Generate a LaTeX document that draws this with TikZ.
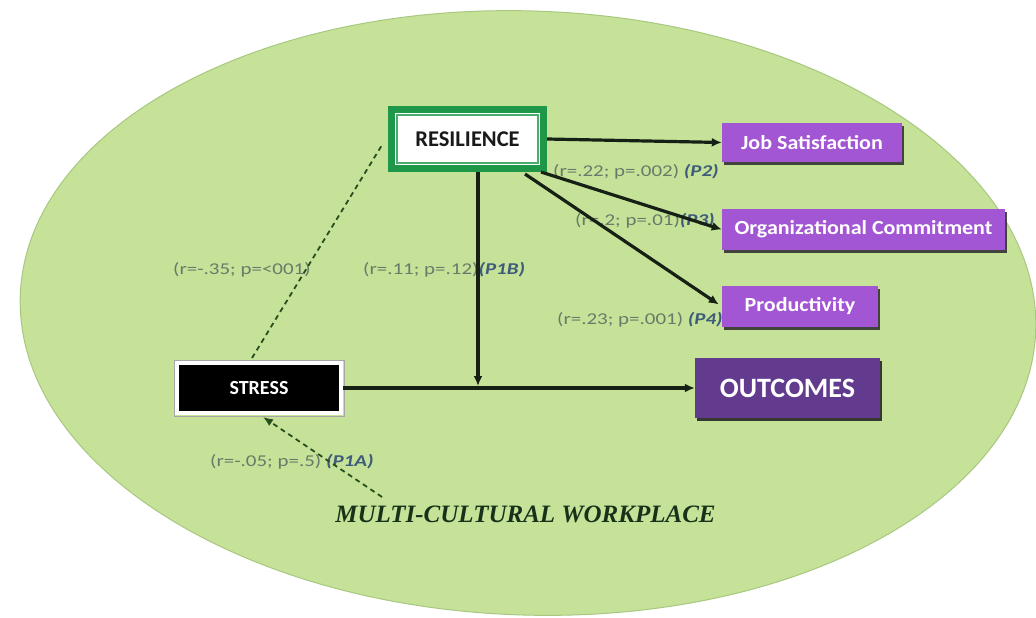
\documentclass[tikz,border=0pt]{standalone}
\usepackage{fontspec}
\setmainfont{Carlito}
\newfontfamily\statfont[FakeStretch=1.27]{Carlito}
\newfontfamily\boxfont[FakeStretch=1.1]{Carlito}
\newfontfamily\plainbox{Carlito}
\newfontfamily\ctxfont{Liberation Serif}
\usetikzlibrary{arrows.meta,shadows,calc}

\definecolor{field}{RGB}{197,226,152}
\definecolor{fieldedge}{RGB}{168,200,128}
\definecolor{resgreen}{RGB}{30,152,72}
\definecolor{lilac}{RGB}{163,86,212}
\definecolor{deeppurple}{RGB}{98,58,142}
\definecolor{statgrey}{RGB}{105,122,106}
\definecolor{pblue}{RGB}{62,92,122}
\definecolor{linedark}{RGB}{22,32,20}
\definecolor{dashgreen}{RGB}{40,78,30}
\definecolor{ctxgreen}{RGB}{24,50,26}

\tikzset{
  pbox/.style={fill=lilac, text=white, inner sep=0pt,
    font=\boxfont\bfseries\fontsize{20}{23}\selectfont,
    drop shadow={shadow xshift=2pt, shadow yshift=-3pt, fill=black!80, opacity=0.9}},
  stat/.style={font=\statfont\fontsize{16.5}{19}\selectfont, text=statgrey, inner sep=0pt, anchor=west},
  link/.style={draw=linedark, line width=3.2pt, -{Latex[length=10pt,width=9pt]}},
  dashlink/.style={draw=dashgreen, line width=1.8pt, dash pattern=on 5pt off 4pt},
}
\newcommand{\pcode}[1]{\textcolor{pblue}{\bfseries\itshape #1}}

\begin{document}
\begin{tikzpicture}[x=1pt,y=-1pt]
\useasboundingbox (0,0) rectangle (1036,618);
\fill[white] (0,0) rectangle (1036,618);

% the surrounding field
\filldraw[fill=field, draw=fieldedge, line width=1pt, rotate around={-2:(528,313)}]
  (528,313) ellipse [x radius=508, y radius=302];

% variables
\node[draw=resgreen, line width=7pt, fill=white, minimum width=152pt, minimum height=59pt,
      inner sep=0pt, font=\plainbox\bfseries\fontsize{22.5}{25}\selectfont, text=black!90]
  (res) at (467.5,139) {RESILIENCE};
\draw[resgreen!80, line width=1.2pt] ($(res.north west)+(9,9)$) rectangle ($(res.south east)+(-9,-9)$);

\node[pbox, minimum width=180pt, minimum height=39pt] (js) at (812,142.5) {Job Satisfaction};
\node[pbox, minimum width=283pt, minimum height=41pt] (oc) at (863.5,229.5) {Organizational Commitment};
\node[pbox, minimum width=156pt, minimum height=41pt] (prod) at (800,306.5) {Productivity};

\node[fill=deeppurple, text=white, inner sep=0pt, minimum width=185pt, minimum height=60pt,
      font=\plainbox\bfseries\fontsize{28}{31}\selectfont,
      drop shadow={shadow xshift=2pt, shadow yshift=-3pt, fill=black!85, opacity=0.9}]
  (out) at (787.5,388) {OUTCOMES};

\node[fill=black, draw=white, line width=4pt, minimum width=164pt, minimum height=50pt, inner sep=0pt,
      text=white, font=\plainbox\bfseries\fontsize{20}{23}\selectfont]
  (st) at (259,388) {STRESS};
\draw[black!35, line width=0.8pt] ($(st.north west)+(-1,-1)$) rectangle ($(st.south east)+(1,1)$);

\node[font=\ctxfont\bfseries\itshape\fontsize{25}{29}\selectfont, text=ctxgreen, inner sep=0pt]
  (mcw) at (525.5,514) {MULTI-CULTURAL WORKPLACE};

% junction points
\coordinate (mid) at (478,386);
\coordinate (mcwtop) at (382,497);

% effect labels
\node[stat] (l2) at (553,172) {(r=.22; p=.002) \pcode{(P2)}};
\node[stat] (l3) at (575,221) {(r=.2; p=.01)\pcode{(P3)}};
\node[stat] (l4) at (557,320) {(r=.23; p=.001) \pcode{(P4)}};
\node[stat] (l35) at (173,270) {(r=-.35; p=<001)};
\node[stat] (l1b) at (363,270) {(r=.11; p=.12)\pcode{(P1B)}};
\node[stat] (l1a) at (210,462) {(r=-.05; p=.5) \pcode{(P1A)}};

% connectors
\draw[link] (res.east) -- (js.west);
\draw[link] ($(res.south east)+(-6,0)$) -- (oc.west);
\draw[link] ($(res.south east)+(-22,2)$) -- ($(prod.west)+(-3,-2)$);
\draw[link] (res.south -| mid) -- (mid);
\draw[link] (st.east) -- (out.west);
\draw[dashlink] ($(st.north)+(-7,-3)$) -- ($(res.west)+(-6,6)$);
\draw[dashlink, -{Latex[length=10pt,width=8pt]}] (mcwtop) -- ($(st.south)+(4,2)$);
\end{tikzpicture}
\end{document}
